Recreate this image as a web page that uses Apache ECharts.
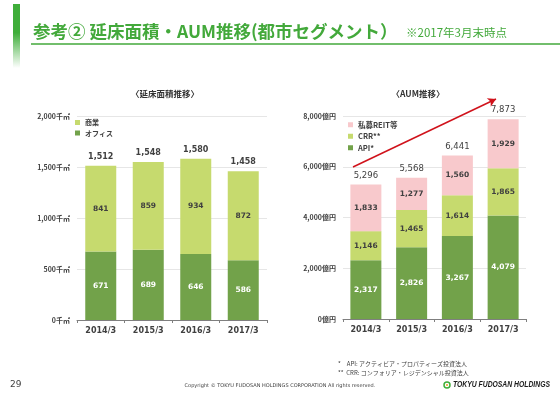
<!DOCTYPE html>
<html>
<head>
<meta charset="utf-8">
<script src="https://cdn.jsdelivr.net/npm/echarts@6/dist/echarts.min.js"></script>
<style>
  html, body { margin: 0; padding: 0; background: #fff; }
  #chart { width: 560px; height: 396px; }
</style>
</head>
<body>
<div id="chart"></div>
<script>
// data
const years = ["2014/3", "2015/3", "2016/3", "2017/3"];

const floorOffice = [671, 689, 646, 586];
const floorRetail = [841, 859, 934, 872];
const floorTotal = [1512, 1548, 1580, 1458];

const aumApi = [2317, 2826, 3267, 4079];
const aumCrr = [1146, 1465, 1614, 1865];
const aumPrivate = [1833, 1277, 1560, 1929];
const aumTotal = [5296, 5568, 6441, 7873];

const JP = "'Noto Sans CJK JP', 'DejaVu Sans', sans-serif";
const NUM = "'DejaVu Sans', 'Noto Sans CJK JP', sans-serif";

const DARK = "#72a24a";
const LIGHT = "#c6da6e";
const PINK = "#f8c9cc";

const segLabel = (color) => ({
  show: true,
  position: "inside",
  color: color,
  fontSize: 7.5,
  fontWeight: "bold",
  fontFamily: NUM,
  formatter: p => p.value.toLocaleString("en-US"),
});

const totalLabel = (arr, weight) => ({
  show: true,
  position: "top",
  distance: 5,
  color: "#404040",
  fontSize: 8,
  fontWeight: weight,
  fontFamily: NUM,
  formatter: p => arr[p.dataIndex].toLocaleString("en-US"),
});

const xAxisCommon = (gridIndex) => ({
  type: "category",
  gridIndex: gridIndex,
  data: years,
  axisLine: { lineStyle: { color: "#7f7f7f", width: 1 } },
  axisTick: { show: true, length: 3, lineStyle: { color: "#7f7f7f" } },
  axisLabel: { color: "#404040", fontSize: 8, fontWeight: "bold", fontFamily: NUM, margin: 7 },
});

const yAxisCommon = (gridIndex, max, interval, unit) => ({
  type: "value",
  gridIndex: gridIndex,
  min: 0,
  max: max,
  interval: interval,
  axisLine: { show: false },
  axisTick: { show: false },
  splitLine: { lineStyle: { color: "#e6e6e6", width: 1 } },
  axisLabel: {
    color: "#404040", fontSize: 7, fontWeight: "bold", fontFamily: JP, margin: 7,
    formatter: v => v.toLocaleString("en-US") + unit,
  },
});

const chart = echarts.init(document.getElementById("chart"), null, { renderer: "canvas" });

const option = {
  animation: false,
  backgroundColor: "#fff",
  title: [
    {
      text: "〈延床面積推移〉", left: 160, top: 85, textAlign: "center",
      textStyle: { fontSize: 8.5, fontWeight: "bold", color: "#333", fontFamily: JP },
    },
    {
      text: "〈AUM推移〉", left: 413, top: 85, textAlign: "center",
      textStyle: { fontSize: 8.5, fontWeight: "bold", color: "#333", fontFamily: JP },
    },
  ],
  legend: [
    {
      data: ["商業", "オフィス"],
      orient: "vertical",
      left: 75, top: 119, padding: 0,
      itemWidth: 5, itemHeight: 5, itemGap: 3.5,
      icon: "rect",
      textStyle: { fontSize: 7, fontWeight: "bold", color: "#404040", fontFamily: JP },
    },
    {
      data: ["私募REIT等", "CRR**", "API*"],
      orient: "vertical",
      left: 348, top: 121, padding: 0,
      itemWidth: 5, itemHeight: 5, itemGap: 4,
      icon: "rect",
      textStyle: { fontSize: 7.5, fontWeight: "bold", color: "#404040", fontFamily: JP },
    },
  ],
  grid: [
    { left: 77, right: 293, top: 116, bottom: 76 },
    { left: 343, right: 34, top: 116, bottom: 77 },
  ],
  xAxis: [xAxisCommon(0), xAxisCommon(1)],
  yAxis: [
    yAxisCommon(0, 2000, 500, "千㎡"),
    yAxisCommon(1, 8000, 2000, "億円"),
  ],
  series: [
    {
      name: "オフィス", type: "bar", stack: "floor", xAxisIndex: 0, yAxisIndex: 0,
      data: floorOffice, barWidth: 31, itemStyle: { color: DARK }, label: segLabel("#fff"),
    },
    {
      name: "商業", type: "bar", stack: "floor", xAxisIndex: 0, yAxisIndex: 0,
      data: floorRetail, barWidth: 31, itemStyle: { color: LIGHT }, label: segLabel("#404040"),
    },
    {
      name: "floorTotal", type: "bar", stack: "floor", xAxisIndex: 0, yAxisIndex: 0,
      data: floorTotal.map(() => 0), barWidth: 31, itemStyle: { color: "transparent" },
      label: totalLabel(floorTotal, "bold"),
    },
    {
      name: "API*", type: "bar", stack: "aum", xAxisIndex: 1, yAxisIndex: 1,
      data: aumApi, barWidth: 31, itemStyle: { color: DARK }, label: segLabel("#fff"),
    },
    {
      name: "CRR**", type: "bar", stack: "aum", xAxisIndex: 1, yAxisIndex: 1,
      data: aumCrr, barWidth: 31, itemStyle: { color: LIGHT }, label: segLabel("#404040"),
    },
    {
      name: "私募REIT等", type: "bar", stack: "aum", xAxisIndex: 1, yAxisIndex: 1,
      data: aumPrivate, barWidth: 31, itemStyle: { color: PINK }, label: segLabel("#404040"),
    },
    {
      name: "aumTotal", type: "bar", stack: "aum", xAxisIndex: 1, yAxisIndex: 1,
      data: aumTotal.map(() => 0), barWidth: 31, itemStyle: { color: "transparent" },
      label: Object.assign(totalLabel(aumTotal, "normal"), { fontSize: 8.5 }),
      // growth arrow
      markLine: {
        silent: true,
        symbol: ["none", "arrow"],
        symbolSize: [7, 8],
        label: { show: false },
        lineStyle: { color: "#d0121b", width: 1.5, type: "solid" },
        data: [[{ x: 353, y: 167 }, { x: 496, y: 99 }]],
      },
    },
  ],
  graphic: [
    // green side bar
    {
      type: "rect", shape: { x: 13, y: 4, width: 7, height: 64 },
      style: {
        fill: new echarts.graphic.LinearGradient(0, 0, 0, 1, [
          { offset: 0, color: "#3fae3a" },
          { offset: 0.45, color: "#3fae3a" },
          { offset: 1, color: "rgba(63,174,58,0)" },
        ]),
      },
    },
    {
      type: "text", x: 33, y: 31,
      style: {
        text: "参考② 延床面積・AUM推移(都市セグメント）", fill: "#43a93b",
        font: "bold 17.5px 'Noto Sans CJK JP', sans-serif", verticalAlign: "middle",
      },
    },
    {
      type: "text", x: 406, y: 33,
      style: {
        text: "※2017年3月末時点", fill: "#43a93b",
        font: "11.5px 'Noto Sans CJK JP', sans-serif", verticalAlign: "middle",
      },
    },
    {
      type: "line", shape: { x1: 31, y1: 44, x2: 560, y2: 44 },
      style: { stroke: "#43a93b", lineWidth: 1.5 },
    },
    // footnotes
    {
      type: "text", x: 338, y: 364,
      style: {
        text: "*　API: アクティビア・プロパティーズ投資法人", fill: "#404040",
        font: "6px 'Noto Sans CJK JP', sans-serif", verticalAlign: "middle",
      },
    },
    {
      type: "text", x: 338, y: 373,
      style: {
        text: "**  CRR: コンフォリア・レジデンシャル投資法人", fill: "#404040",
        font: "6px 'Noto Sans CJK JP', sans-serif", verticalAlign: "middle",
      },
    },
    // footer
    {
      type: "text", x: 10, y: 385,
      style: { text: "29", fill: "#404040", font: "9px 'DejaVu Sans', sans-serif", verticalAlign: "middle" },
    },
    {
      type: "text", x: 280, y: 386,
      style: {
        text: "Copyright © TOKYU FUDOSAN HOLDINGS CORPORATION All rights reserved.", fill: "#404040",
        font: "5px 'DejaVu Sans', sans-serif", align: "center", verticalAlign: "middle",
      },
    },
    {
      type: "circle", shape: { cx: 447, cy: 385, r: 3 },
      style: { fill: "#fff", stroke: "#3fae3a", lineWidth: 1.5 },
    },
    {
      type: "circle", shape: { cx: 447, cy: 385, r: 1 },
      style: { fill: "#e8a020" },
    },
    {
      type: "text", x: 453, y: 385, scaleX: 0.8,
      style: {
        text: "TOKYU FUDOSAN HOLDINGS", fill: "#1a1a1a",
        font: "italic bold 8.5px 'Liberation Sans', sans-serif", verticalAlign: "middle",
      },
    },
  ],
};

chart.setOption(option);
</script>
</body>
</html>
